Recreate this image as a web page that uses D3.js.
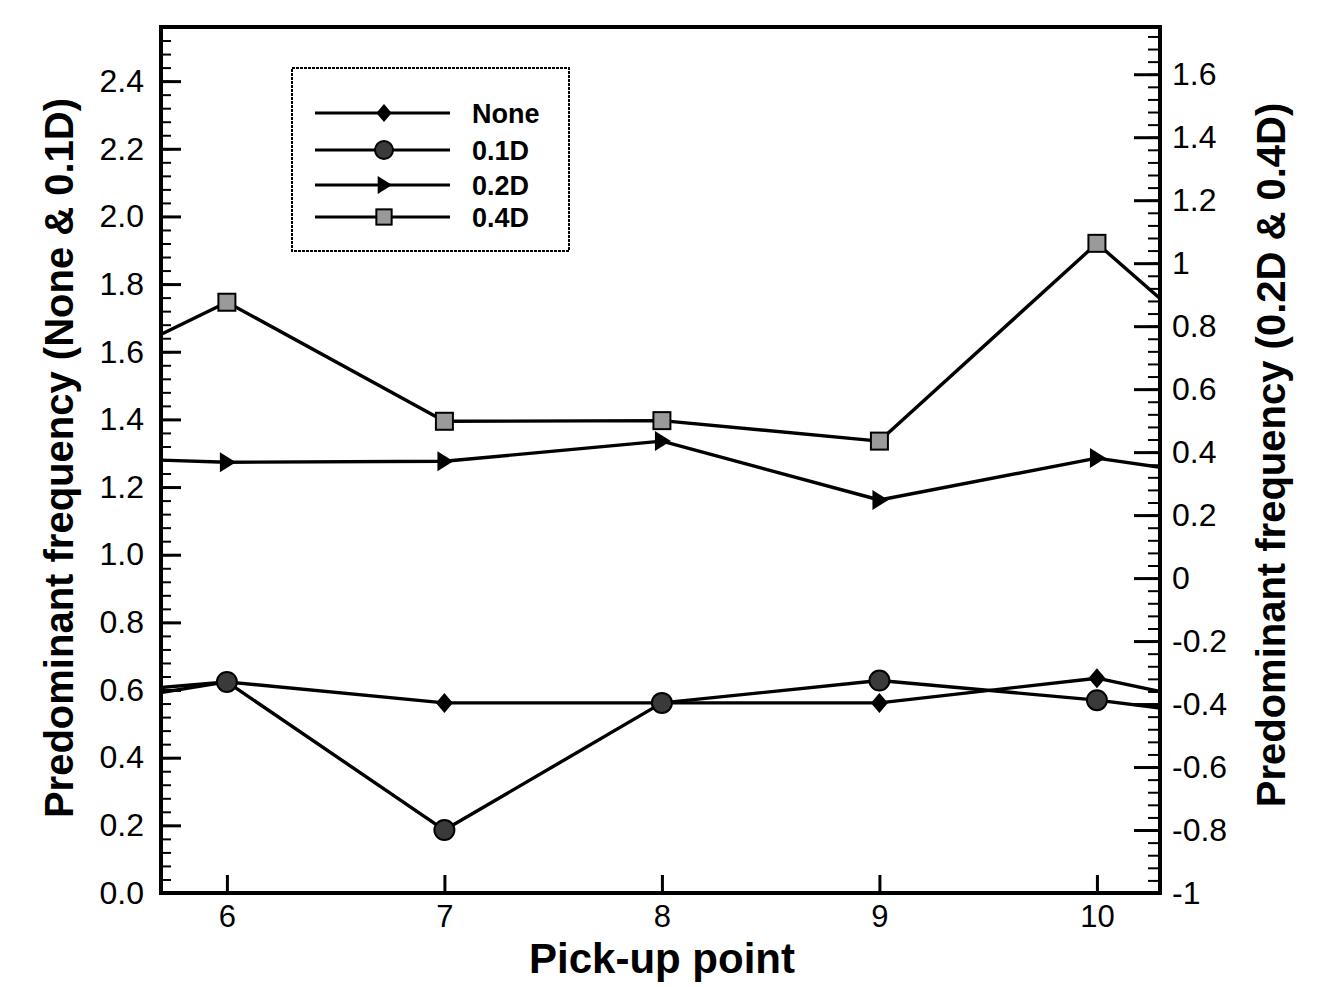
<!DOCTYPE html>
<html>
<head>
<meta charset="utf-8">
<script src="https://cdn.jsdelivr.net/npm/d3@7"></script>
<style>
  html, body { margin: 0; padding: 0; background: #fff; overflow: hidden; }
  svg { display: block; }
  text { font-family: "Liberation Sans", Arial, sans-serif; fill: #000; }
</style>
</head>
<body>
<div id="chart"></div>
<script>
// Data (left axis: None & 0.1D, right axis: 0.2D & 0.4D)
const pickup = [5, 6, 7, 8, 9, 10, 11];
const noneVals = [0.57, 0.624, 0.562, 0.562, 0.562, 0.635, 0.50];
const d01Vals = [0.52, 0.624, 0.186, 0.562, 0.628, 0.57, 0.49];
const d02Vals = [0.39, 0.368, 0.371, 0.435, 0.248, 0.381, 0.28];
const d04Vals = [0.54, 0.876, 0.498, 0.50, 0.435, 1.063, 0.46];

const xTicks = [6, 7, 8, 9, 10];
const leftTicks = [0, 0.2, 0.4, 0.6, 0.8, 1.0, 1.2, 1.4, 1.6, 1.8, 2.0, 2.2, 2.4];
const rightTicks = [-1, -0.8, -0.6, -0.4, -0.2, 0, 0.2, 0.4, 0.6, 0.8, 1, 1.2, 1.4, 1.6];
const seriesNames = ["None", "0.1D", "0.2D", "0.4D"];

const width = 1322, height = 987;
const margin = { top: 27, right: 162, bottom: 94, left: 161 };
const innerWidth = width - margin.left - margin.right;
const innerHeight = height - margin.top - margin.bottom;

const svg = d3.select("#chart")
  .append("svg")
  .attr("width", width)
  .attr("height", height)
  .attr("viewBox", [0, 0, width, height]);

const innerChart = svg.append("g")
  .attr("transform", `translate(${margin.left}, ${margin.top})`);

// Scales
const xScale = d3.scaleLinear().domain([5.697, 10.29]).range([0, innerWidth]);
const yLeft = d3.scaleLinear().domain([0, 2.56]).range([innerHeight, 0]);
const yRight = d3.scaleLinear().domain([-1, 1.75]).range([innerHeight, 0]);

const series = [
  { name: seriesNames[0], values: noneVals, y: yLeft, marker: "diamond" },
  { name: seriesNames[1], values: d01Vals, y: yLeft, marker: "circle" },
  { name: seriesNames[2], values: d02Vals, y: yRight, marker: "triangle" },
  { name: seriesNames[3], values: d04Vals, y: yRight, marker: "square" }
];

// Clip lines to the plot frame
svg.append("clipPath").attr("id", "plot-clip")
  .append("rect")
  .attr("width", innerWidth)
  .attr("height", innerHeight);

const drawMarker = (g, type, x, y, s) => {
  if (type === "diamond") {
    g.append("path")
      .attr("d", `M${x},${y - s}L${x + s * 0.85},${y}L${x},${y + s}L${x - s * 0.85},${y}Z`)
      .attr("fill", "#000");
  } else if (type === "circle") {
    g.append("circle")
      .attr("cx", x).attr("cy", y).attr("r", s)
      .attr("fill", "#3a3a3a").attr("stroke", "#000").attr("stroke-width", 2);
  } else if (type === "triangle") {
    g.append("path")
      .attr("d", `M${x - s * 0.7},${y - s}L${x + s * 0.9},${y}L${x - s * 0.7},${y + s}Z`)
      .attr("fill", "#000");
  } else {
    g.append("rect")
      .attr("x", x - s * 0.85).attr("y", y - s * 0.85)
      .attr("width", s * 1.7).attr("height", s * 1.7)
      .attr("fill", "#9a9a9a").attr("stroke", "#000").attr("stroke-width", 2);
  }
};

const plot = innerChart.append("g").attr("clip-path", "url(#plot-clip)");

series.forEach(s => {
  const line = d3.line()
    .x((d, i) => xScale(pickup[i]))
    .y(d => s.y(d));
  plot.append("path")
    .datum(s.values)
    .attr("d", line)
    .attr("fill", "none")
    .attr("stroke", "#000")
    .attr("stroke-width", 3.4)
    .attr("stroke-linejoin", "round");
});

series.forEach(s => {
  s.values.forEach((v, i) => {
    if (pickup[i] < 6 || pickup[i] > 10) return;
    drawMarker(plot, s.marker, xScale(pickup[i]), s.y(v), 10);
  });
});

// Axes
const leftAxis = d3.axisLeft(yLeft)
  .tickValues(leftTicks)
  .tickFormat(d => d.toFixed(1))
  .tickSize(-20)
  .tickPadding(17);
const leftMinor = d3.axisLeft(yLeft)
  .tickValues(d3.range(0, 2.56, 0.04))
  .tickFormat("")
  .tickSize(-10);

const rightAxis = d3.axisRight(yRight)
  .tickValues(rightTicks)
  .tickFormat(d => String(d))
  .tickSize(-26)
  .tickPadding(12);
const rightMinor = d3.axisRight(yRight)
  .tickValues(d3.range(-1, 1.75, 0.04))
  .tickFormat("")
  .tickSize(-12);

const bottomAxis = d3.axisBottom(xScale)
  .tickValues(xTicks)
  .tickFormat(d3.format("d"))
  .tickSize(-18)
  .tickPadding(12);

const styleAxis = (g, size) => {
  g.select(".domain").remove();
  g.selectAll(".tick line").attr("stroke", "#000").attr("stroke-width", 3);
  g.selectAll(".tick text")
    .attr("font-size", size)
    .attr("font-family", "'Liberation Sans', Arial, sans-serif")
    .attr("fill", "#000");
};

const styleMinor = g => {
  g.select(".domain").remove();
  g.selectAll(".tick text").remove();
  g.selectAll(".tick line").attr("stroke", "#000").attr("stroke-width", 2);
};

innerChart.append("g").call(leftMinor).call(styleMinor);
innerChart.append("g").call(leftAxis).call(g => styleAxis(g, 32));

innerChart.append("g").attr("transform", `translate(${innerWidth}, 0)`)
  .call(rightMinor).call(styleMinor);
innerChart.append("g").attr("transform", `translate(${innerWidth}, 0)`)
  .call(rightAxis).call(g => styleAxis(g, 32));

innerChart.append("g").attr("transform", `translate(0, ${innerHeight})`)
  .call(bottomAxis).call(g => styleAxis(g, 31));

// Frame
innerChart.append("rect")
  .attr("width", innerWidth)
  .attr("height", innerHeight)
  .attr("fill", "none")
  .attr("stroke", "#000")
  .attr("stroke-width", 4);

// Axis titles
svg.append("text")
  .attr("transform", `translate(73, 458) rotate(-90)`)
  .attr("text-anchor", "middle")
  .attr("font-size", 40)
  .attr("font-weight", "bold")
  .text("Predominant frequency (None & 0.1D)");

svg.append("text")
  .attr("transform", `translate(1285, 455) rotate(-90)`)
  .attr("text-anchor", "middle")
  .attr("font-size", 40)
  .attr("font-weight", "bold")
  .text("Predominant frequency (0.2D & 0.4D)");

svg.append("text")
  .attr("x", 662)
  .attr("y", 973)
  .attr("text-anchor", "middle")
  .attr("font-size", 42)
  .attr("font-weight", "bold")
  .text("Pick-up point");

// Legend
const legend = svg.append("g").attr("transform", "translate(292, 68)");
legend.append("rect")
  .attr("width", 277)
  .attr("height", 183)
  .attr("fill", "#fff")
  .attr("stroke", "#000")
  .attr("stroke-width", 2)
  .attr("stroke-dasharray", "3 1");

const legendRows = [45, 82, 117, 149];
series.forEach((s, i) => {
  const ly = legendRows[i];
  legend.append("line")
    .attr("x1", 23).attr("x2", 158)
    .attr("y1", ly).attr("y2", ly)
    .attr("stroke", "#000")
    .attr("stroke-width", 3);
  drawMarker(legend, s.marker, 92, ly, 9);
  legend.append("text")
    .attr("x", 180)
    .attr("y", ly + 10)
    .attr("font-size", 27)
    .attr("font-weight", "bold")
    .text(s.name);
});
</script>
</body>
</html>
